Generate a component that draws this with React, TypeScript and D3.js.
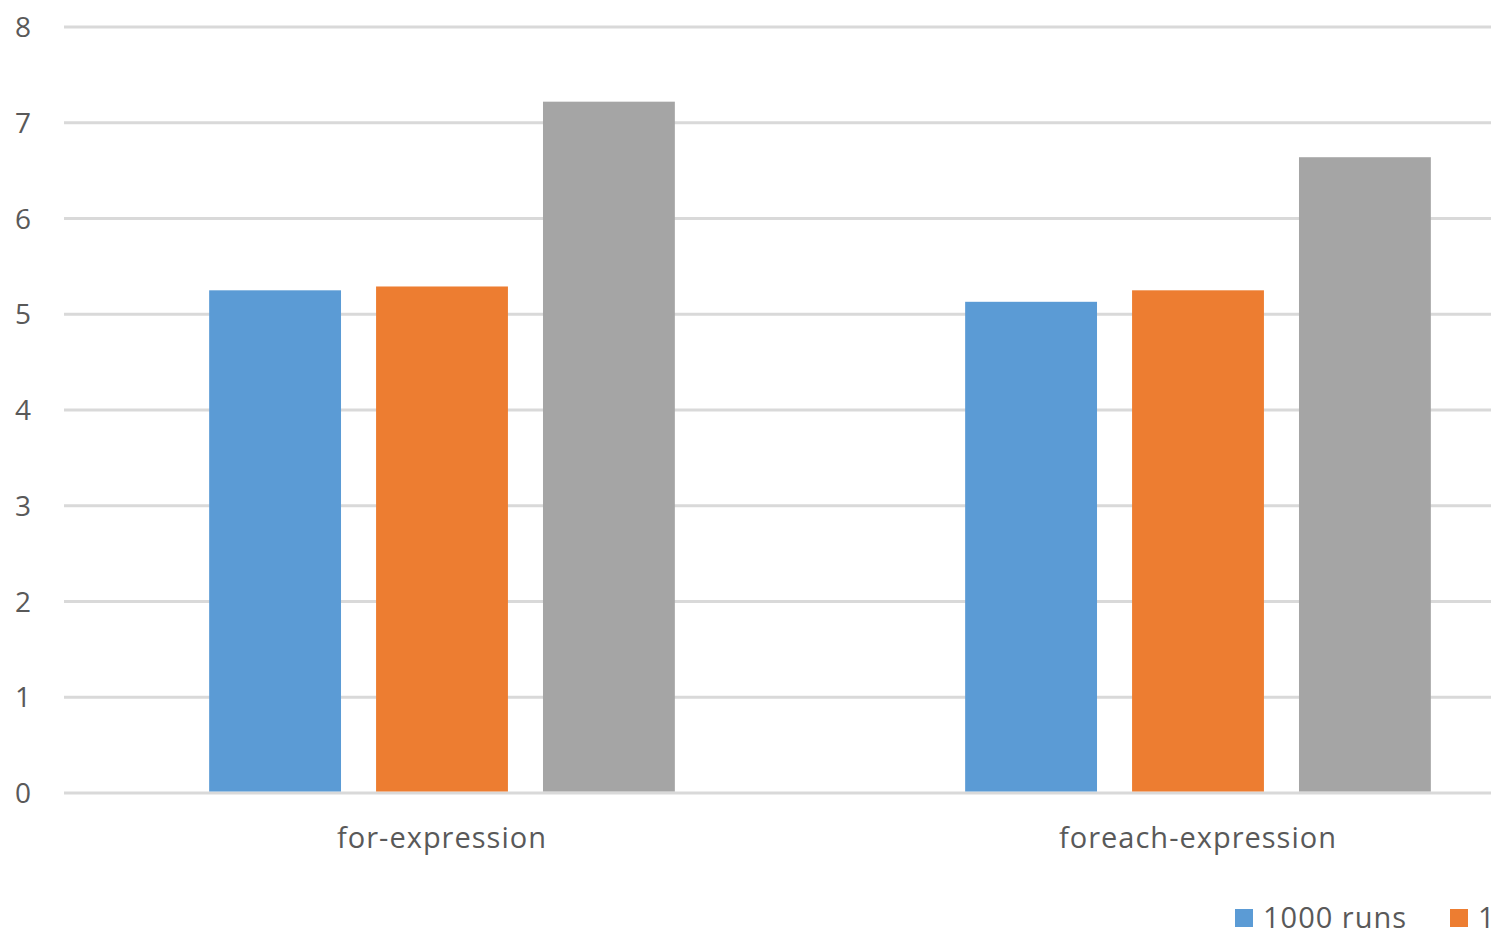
import { useEffect, useRef } from "react";
import * as d3 from "d3";

const categories = ["for-expression", "foreach-expression"];
const seriesNames = ["1000 runs", "10000 runs", "100000 runs"];
const seriesColors = ["#5b9bd5", "#ed7d31", "#a5a5a5"];
const runs1000 = [5.25, 5.13];
const runs10000 = [5.29, 5.25];
const runs100000 = [7.22, 6.64];
const yTicks = [0, 1, 2, 3, 4, 5, 6, 7, 8];

const width = 1491,
  height = 936;

function App() {
  const svgRef = useRef(null);

  const buildSVG = () => {
    const values = [runs1000, runs10000, runs100000];
    const svg = d3.select(svgRef.current);
    svg.selectAll("*").remove();

    const font = "'Open Sans', 'Liberation Sans', sans-serif";

    // plot area runs past the right edge (the picture is cropped)
    const x0 = d3
      .scaleBand()
      .domain(categories)
      .range([64, 1576])
      .paddingInner(0.384)
      .paddingOuter(0.192);
    const x1 = d3
      .scaleBand()
      .domain(seriesNames)
      .range([0, x0.bandwidth()])
      .paddingInner(0.21);
    const y = d3.scaleLinear().domain([0, 8]).range([793, 27]);

    // gridlines
    svg
      .append("g")
      .selectAll("line")
      .data(yTicks)
      .enter()
      .append("line")
      .attr("x1", 64)
      .attr("x2", width)
      .attr("y1", (d) => y(d))
      .attr("y2", (d) => y(d))
      .attr("stroke", "#d9d9d9")
      .attr("stroke-width", 3);

    svg
      .append("g")
      .selectAll("text")
      .data(yTicks)
      .enter()
      .append("text")
      .attr("x", 31)
      .attr("y", (d) => y(d))
      .attr("dy", "0.36em")
      .attr("text-anchor", "end")
      .style("font-family", font)
      .style("font-size", "28px")
      .style("fill", "#595959")
      .text((d) => d);

    // bars
    seriesNames.forEach((s, si) => {
      svg
        .append("g")
        .selectAll("rect")
        .data(values[si])
        .enter()
        .append("rect")
        .attr("x", (d, i) => (x0(categories[i]) as number) + (x1(s) as number))
        .attr("width", x1.bandwidth())
        .attr("y", (d) => y(d))
        .attr("height", (d) => y(0) - y(d) - 1.5)
        .attr("fill", seriesColors[si]);
    });

    // category labels
    svg
      .append("g")
      .selectAll("text")
      .data(categories)
      .enter()
      .append("text")
      .attr("x", (d) => (x0(d) as number) + x0.bandwidth() / 2)
      .attr("y", 848)
      .attr("text-anchor", "middle")
      .style("font-family", font)
      .style("font-size", "29px")
      .style("letter-spacing", "1px")
      .style("fill", "#595959")
      .text((d) => d);

    // legend
    const legend = svg
      .append("g")
      .selectAll("g")
      .data(seriesNames)
      .enter()
      .append("g")
      .attr("transform", (d, i) => "translate(" + (1235 + i * 215) + ",909)");
    legend
      .append("rect")
      .attr("width", 18)
      .attr("height", 18)
      .attr("fill", (d, i) => seriesColors[i]);
    legend
      .append("text")
      .attr("x", 28)
      .attr("y", 19)
      .style("font-family", font)
      .style("font-size", "29px")
      .style("letter-spacing", "1px")
      .style("fill", "#595959")
      .text((d) => d);
  };

  useEffect(buildSVG, []);

  return (
    <svg
      ref={svgRef}
      width={width}
      height={height}
      style={{ position: "absolute", left: 0, top: 0, background: "#fff" }}
    ></svg>
  );
}

export default App;
